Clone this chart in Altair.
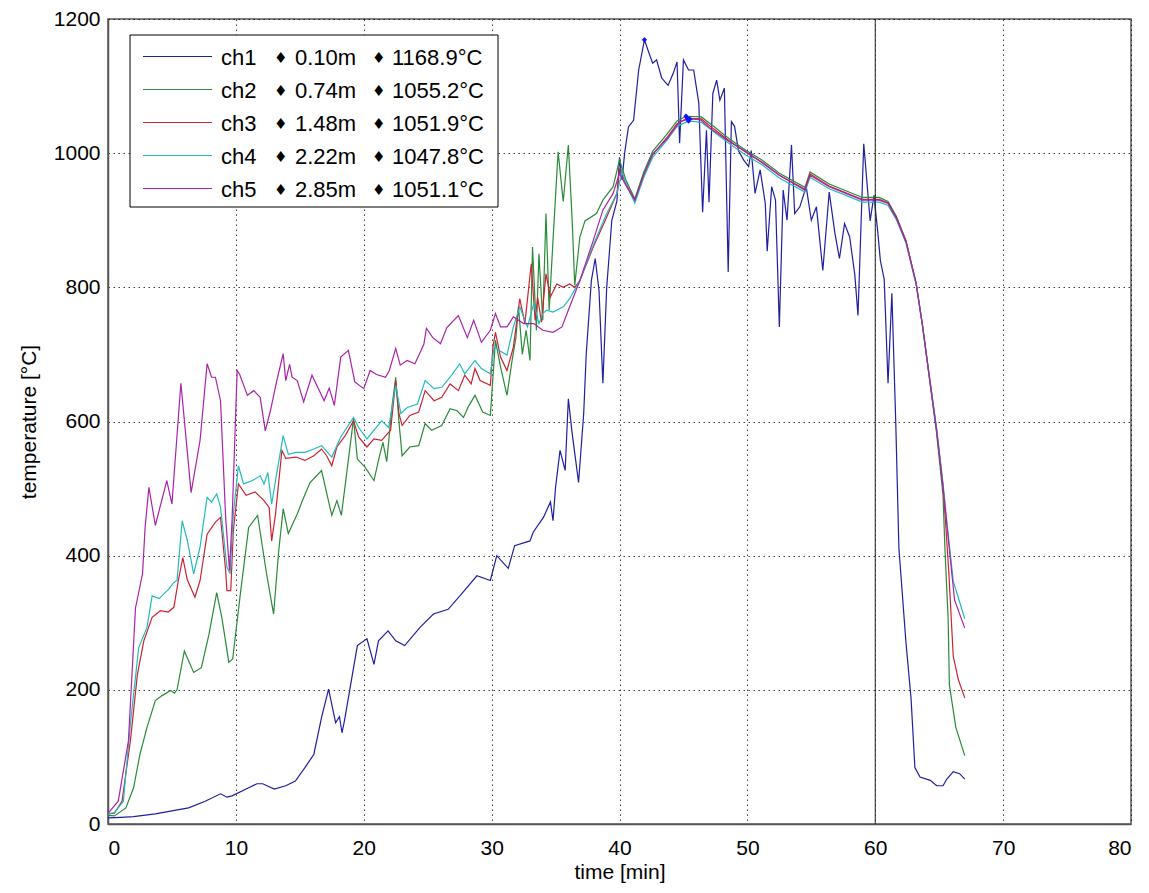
import altair as alt
import pandas as pd

# ---------------- data ----------------
channels = ["ch1", "ch2", "ch3", "ch4", "ch5"]
positions_m = ["0.10m", "0.74m", "1.48m", "2.22m", "2.85m"]
max_temps = [1168.9, 1055.2, 1051.9, 1047.8, 1051.1]
max_times = [41.95, 45.2, 45.3, 45.4, 45.5]
colors = ["#1f1fa0", "#2a8a3a", "#cc2233", "#22bbbb", "#aa22aa"]
vline_t = [60]

ch1 = [(0, 9), (1, 10), (2, 11), (3.7, 15), (6.3, 24), (7.6, 34), (8.8, 45), (9.3, 40), (9.7, 42),
       (11.0, 54), (11.65, 60), (12.1, 60), (13.0, 52), (13.9, 57), (14.65, 64), (15.4, 84), (16.1, 104),
       (16.7, 159), (17.25, 201), (17.8, 151), (18.1, 160), (18.3, 136), (18.5, 155), (19.5, 266),
       (20.25, 276), (20.8, 238), (21.15, 273), (21.9, 288), (22.5, 273), (23.2, 266), (24.4, 293),
       (25.45, 313), (26.6, 320), (27.65, 343), (28.85, 370), (29.9, 363), (30.4, 400), (31.3, 381),
       (31.8, 415), (33.0, 422), (33.25, 435), (34.05, 457), (34.6, 480), (34.8, 452), (35.0, 502),
       (35.35, 557), (35.75, 527), (36.0, 634), (36.3, 582), (36.8, 509), (37.2, 612), (37.4, 701),
       (37.8, 810), (38.1, 843), (38.4, 795), (38.7, 657), (39.0, 800), (39.4, 900), (39.8, 929),
       (40.0, 994), (40.2, 960), (40.4, 1000), (40.7, 1039), (41.1, 1049), (41.5, 1124), (41.95, 1169),
       (42.4, 1144), (42.6, 1134), (42.9, 1139), (43.3, 1112), (43.8, 1101), (44.2, 1119), (44.5, 1136),
       (44.7, 1015), (45.0, 1139), (45.4, 1124), (45.8, 1124), (46.2, 1075), (46.5, 912), (46.8, 1034),
       (47.0, 927), (47.3, 1089), (47.6, 1109), (47.85, 1079), (48.2, 1097), (48.5, 823), (48.75, 1047),
       (49.0, 1040), (49.3, 1004), (49.7, 990), (50.1, 980), (50.3, 1004), (50.6, 940), (51.0, 975),
       (51.4, 925), (51.55, 854), (51.9, 950), (52.2, 930), (52.5, 741), (52.8, 945), (53.1, 900),
       (53.45, 1012), (53.7, 910), (54.1, 920), (54.6, 950), (55.0, 900), (55.4, 920), (55.9, 825),
       (56.4, 942), (56.85, 880), (57.2, 843), (57.6, 895), (58.0, 875), (58.4, 819), (58.65, 758),
       (59.1, 1014), (59.6, 899), (59.9, 937), (60.2, 882), (60.4, 840), (60.7, 812), (61.0, 657),
       (61.3, 791), (61.6, 601), (61.85, 411), (62.4, 271), (62.8, 187), (63.1, 84), (63.5, 70),
       (64.3, 65), (64.8, 57), (65.3, 57), (65.6, 67), (66.1, 78), (66.6, 75), (67.0, 67)]

ch2 = [(0, 13), (0.5, 12), (1.4, 24), (2.0, 54), (2.5, 104), (3.05, 144), (3.7, 184), (4.2, 191),
       (4.9, 199), (5.2, 195), (5.4, 200), (5.97, 258), (6.7, 226), (7.3, 233), (7.9, 283), (8.5, 345),
       (8.9, 308), (9.45, 241), (9.75, 246), (10.35, 343), (11.0, 442), (11.7, 460), (12.4, 373),
       (12.95, 313), (13.35, 407), (13.7, 470), (14.1, 433), (14.8, 462), (15.2, 482), (15.8, 509),
       (16.7, 527), (17.5, 460), (17.9, 482), (18.25, 460), (19.2, 604), (19.5, 544), (20.1, 532),
       (20.8, 512), (21.15, 542), (21.5, 569), (21.8, 540), (22.2, 621), (22.5, 666), (22.75, 600),
       (23.0, 549), (23.6, 562), (24.3, 564), (24.8, 597), (25.3, 587), (26.1, 594), (26.75, 619),
       (27.3, 616), (27.8, 606), (28.2, 623), (28.7, 639), (29.3, 614), (29.9, 609), (30.3, 721),
       (30.7, 681), (31.2, 639), (31.6, 691), (31.9, 725), (32.1, 771), (32.4, 700), (32.7, 736),
       (33.0, 691), (33.2, 860), (33.5, 736), (33.7, 850), (34.0, 751), (34.25, 910), (34.5, 766),
       (34.8, 870), (35.2, 1002), (35.6, 928), (36.0, 1012), (36.3, 899), (36.5, 803), (36.9, 875),
       (37.3, 899), (38.2, 910), (38.7, 930), (39.5, 950), (40.0, 990), (40.5, 960), (41.2, 932),
       (41.9, 972), (42.6, 1003), (43.7, 1028), (44.5, 1048), (45.2, 1055), (46.4, 1054), (47.3, 1041),
       (48.6, 1021), (49.9, 1004), (51.2, 989), (52.5, 970), (54.5, 949), (54.9, 972), (56.4, 954),
       (57.7, 944), (59.0, 934), (60.3, 934), (61.0, 928), (61.65, 906), (62.4, 870), (63.2, 806),
       (63.7, 742), (64.25, 662), (64.8, 582), (65.3, 490), (65.45, 410), (65.7, 306), (65.8, 207),
       (66.3, 144), (67.0, 102)]

ch3 = [(0, 15), (0.5, 16), (1.1, 34), (1.75, 124), (2.3, 223), (2.8, 273), (3.45, 308), (4.1, 318),
       (4.7, 316), (5.15, 323), (5.5, 363), (5.85, 397), (6.2, 364), (6.8, 338), (7.2, 363), (7.75, 432),
       (8.4, 450), (8.8, 457), (9.2, 378), (9.3, 348), (9.6, 348), (9.8, 437), (10.2, 507), (10.8, 490),
       (11.5, 495), (12.2, 482), (12.6, 472), (12.8, 422), (13.1, 462), (13.6, 557), (13.9, 545),
       (14.7, 547), (15.4, 542), (16.1, 549), (16.7, 559), (17.1, 549), (17.5, 534), (17.9, 562),
       (18.55, 579), (19.2, 601), (19.6, 577), (20.25, 562), (20.8, 574), (21.4, 572), (22.1, 587),
       (22.5, 661), (22.75, 612), (23.0, 594), (23.6, 609), (24.3, 614), (24.8, 646), (25.5, 631),
       (26.1, 636), (26.75, 656), (27.4, 646), (27.9, 669), (28.4, 656), (28.7, 679), (29.1, 661),
       (29.9, 654), (30.1, 711), (30.3, 733), (30.7, 696), (31.2, 676), (31.7, 711), (32.2, 783),
       (32.6, 746), (33.1, 835), (33.4, 751), (33.6, 785), (33.9, 748), (34.25, 820), (34.6, 786),
       (35.1, 805), (35.6, 800), (36.1, 805), (36.5, 800), (36.9, 810), (37.95, 860), (39.0, 905),
       (39.8, 940), (40.0, 975), (40.5, 955), (41.2, 929), (41.9, 968), (42.6, 998), (43.7, 1023),
       (44.5, 1044), (45.3, 1052), (46.4, 1051), (47.3, 1037), (48.6, 1018), (49.9, 1001), (51.2, 986),
       (52.5, 967), (54.5, 946), (54.9, 969), (56.4, 951), (57.7, 941), (59.0, 931), (60.3, 931),
       (61.0, 926), (61.65, 904), (62.4, 869), (63.2, 806), (63.7, 743), (64.25, 664), (64.8, 587),
       (65.3, 503), (65.5, 450), (65.75, 376), (66.1, 250), (66.5, 215), (67.0, 188)]

ch4 = [(0, 15), (0.5, 17), (1.2, 34), (1.75, 149), (2.4, 263), (3.05, 293), (3.45, 340), (4.0, 336),
       (4.75, 350), (5.15, 360), (5.4, 363), (5.8, 452), (6.2, 423), (6.7, 373), (7.2, 413), (7.75, 487),
       (8.1, 480), (8.5, 492), (8.8, 472), (9.3, 383), (9.55, 373), (9.8, 462), (10.2, 534), (10.6, 507),
       (11.3, 512), (11.9, 519), (12.2, 507), (12.5, 524), (12.8, 477), (13.1, 512), (13.7, 579),
       (14.1, 551), (14.7, 554), (15.4, 554), (16.1, 559), (16.7, 564), (17.5, 547), (18.2, 577),
       (19.2, 606), (19.6, 591), (20.25, 574), (20.8, 587), (21.4, 601), (21.95, 591), (22.5, 654),
       (22.9, 612), (23.4, 621), (24.2, 626), (24.8, 661), (25.5, 649), (26.1, 651), (26.75, 666),
       (27.5, 686), (27.9, 671), (28.7, 691), (29.2, 679), (29.9, 671), (30.2, 711), (30.6, 706),
       (31.2, 699), (31.7, 741), (32.2, 771), (32.8, 741), (33.3, 776), (33.7, 746), (34.0, 761),
       (34.3, 766), (34.8, 763), (35.6, 771), (36.1, 783), (36.9, 810), (37.95, 863), (39.0, 910),
       (39.8, 940), (40.2, 972), (40.6, 950), (41.2, 926), (41.9, 964), (42.6, 994), (43.7, 1019),
       (44.5, 1040), (45.4, 1048), (46.4, 1046), (47.3, 1033), (48.6, 1014), (49.9, 997), (51.2, 982),
       (52.5, 963), (54.5, 942), (54.9, 964), (56.4, 947), (57.7, 937), (59.0, 927), (60.3, 927),
       (61.0, 922), (61.65, 901), (62.4, 866), (63.2, 804), (63.7, 742), (64.25, 665), (64.8, 590),
       (65.3, 508), (65.6, 450), (66.1, 362), (67.0, 306)]

ch5 = [(0, 16), (0.8, 34), (1.6, 124), (2.15, 322), (2.7, 373), (2.9, 442), (3.2, 502), (3.7, 445),
       (4.6, 512), (5.0, 477), (5.7, 657), (6.5, 494), (7.2, 572), (7.75, 686), (8.1, 666), (8.4, 666),
       (8.8, 631), (9.2, 457), (9.5, 378), (9.7, 452), (10.1, 676), (10.3, 670), (10.9, 639),
       (11.4, 646), (11.9, 636), (12.3, 586), (12.7, 616), (13.2, 661), (13.7, 701), (13.9, 661),
       (14.2, 685), (14.4, 666), (14.8, 661), (15.3, 629), (15.95, 669), (16.9, 631), (17.3, 650),
       (17.7, 624), (18.2, 696), (18.8, 706), (19.3, 659), (20.0, 649), (20.5, 676), (21.0, 670),
       (21.7, 666), (22.0, 676), (22.5, 709), (22.85, 684), (23.4, 691), (24.0, 686), (24.7, 715),
       (24.9, 739), (25.4, 725), (26.0, 716), (26.5, 740), (27.4, 758), (28.1, 725), (28.6, 751),
       (29.2, 718), (29.9, 736), (30.3, 761), (30.7, 741), (31.2, 741), (31.7, 756), (32.5, 746),
       (33.3, 746), (34.0, 736), (34.8, 733), (35.5, 741), (36.1, 771), (36.9, 810), (37.95, 870),
       (38.7, 915), (39.5, 940), (40.0, 970), (40.5, 952), (41.2, 930), (41.9, 968), (42.6, 999),
       (43.7, 1021), (44.7, 1047), (45.5, 1051), (46.3, 1050), (47.3, 1034), (48.6, 1017), (49.9, 1002),
       (51.2, 985), (52.5, 967), (54.5, 945), (54.9, 967), (56.4, 950), (57.7, 940), (59.0, 930),
       (60.3, 930), (61.0, 925), (61.65, 903), (62.4, 868), (63.2, 805), (63.7, 742), (64.25, 664),
       (64.8, 587), (65.3, 503), (65.6, 446), (65.9, 390), (66.2, 334), (67.0, 292)]

series = [ch1, ch2, ch3, ch4, ch5]

# ---------------- tables ----------------
rows = []
for name, pts in zip(channels, series):
    for t, v in pts:
        rows.append({"t": t, "v": v, "ch": name})
df = pd.DataFrame(rows)
df_max = pd.DataFrame({"t": max_times, "v": max_temps, "ch": channels})
df_vline = pd.DataFrame({"t": vline_t})
one = pd.DataFrame({"k": [0]})

FONT = "Liberation Sans"
W, H = 1023, 805

xscale = alt.Scale(domain=[0, 80], nice=False)
yscale = alt.Scale(domain=[0, 1200], nice=False)

xaxis = alt.Axis(values=list(range(0, 81, 10)), title="time [min]", grid=True, format="d")
yaxis = alt.Axis(values=list(range(0, 1201, 200)), title="temperature [°C]", grid=True, format="d")

lines = alt.Chart(df).mark_line(strokeWidth=1.2).encode(
    x=alt.X("t:Q", scale=xscale, axis=xaxis),
    y=alt.Y("v:Q", scale=yscale, axis=yaxis),
    color=alt.Color("ch:N", scale=alt.Scale(domain=channels, range=colors), legend=None),
    order="t:Q",
)

vline = alt.Chart(df_vline).mark_rule(color="#222222", strokeWidth=1).encode(
    x=alt.X("t:Q", scale=xscale)
)

markers = alt.Chart(df_max).mark_point(shape="diamond", filled=True, size=28, color="#1010ff", opacity=1).encode(
    x=alt.X("t:Q", scale=xscale),
    y=alt.Y("v:Q", scale=yscale),
)

# ---------------- legend (MATLAB style box) ----------------
box = alt.Chart(one).mark_rect(fill="white", stroke="black", strokeWidth=1).encode(
    x=alt.value(22), x2=alt.value(390), y=alt.value(16), y2=alt.value(188)
)
legend_layers = [box]
row_y = [37.5, 70.5, 103.5, 136.5, 169.5]
for i, name in enumerate(channels):
    yv = row_y[i]
    legend_layers.append(
        alt.Chart(one).mark_rule(color=colors[i], strokeWidth=1.2).encode(
            x=alt.value(35), x2=alt.value(104), y=alt.value(yv)
        )
    )
    legend_layers.append(
        alt.Chart(one).mark_text(text=name, align="left", baseline="middle", font=FONT,
                                 fontSize=22, color="black").encode(x=alt.value(113), y=alt.value(yv + 1))
    )
    legend_layers.append(
        alt.Chart(one).mark_text(text="♦", align="left", baseline="middle", font="DejaVu Sans",
                                 fontSize=15, color="black").encode(x=alt.value(166), y=alt.value(yv + 1))
    )
    legend_layers.append(
        alt.Chart(one).mark_text(text=positions_m[i], align="left", baseline="middle", font=FONT,
                                 fontSize=22, color="black").encode(x=alt.value(187), y=alt.value(yv + 1))
    )
    legend_layers.append(
        alt.Chart(one).mark_text(text="♦", align="left", baseline="middle", font="DejaVu Sans",
                                 fontSize=15, color="black").encode(x=alt.value(264), y=alt.value(yv + 1))
    )
    legend_layers.append(
        alt.Chart(one).mark_text(text=f"{max_temps[i]:.1f}°C", align="left", baseline="middle", font=FONT,
                                 fontSize=22, color="black").encode(x=alt.value(284), y=alt.value(yv + 1))
    )

chart = alt.layer(lines, vline, markers, *legend_layers).properties(
    width=W, height=H,
    autosize=alt.AutoSizeParams(type="none"),
    padding={"left": 100, "top": 11, "right": 10, "bottom": 60},
    background="white",
).configure_view(
    stroke="#555555", strokeWidth=1.5
).configure_axis(
    labelFont=FONT, titleFont=FONT, labelFontSize=21, titleFontSize=21,
    titleFontWeight="normal", labelColor="black", titleColor="black",
    domainColor="#555555", domainWidth=1.5, tickSize=0,
    gridColor="black", gridOpacity=0.75, gridDash=[1.5, 3.5], gridWidth=1,
).configure_axisX(
    labelPadding=13, titlePadding=3
).configure_axisY(
    labelPadding=8, titlePadding=14
)

chart.save("out.html", embed_options={"renderer": "svg", "actions": False})
